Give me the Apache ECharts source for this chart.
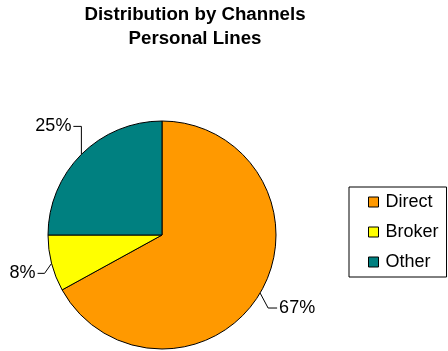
<!DOCTYPE html>
<html>
<head>
<meta charset="utf-8">
<script src="https://cdn.jsdelivr.net/npm/echarts@6/dist/echarts.min.js"></script>
<style>
  html, body { margin: 0; padding: 0; background: #fff; }
  #chart { width: 448px; height: 351px; }
</style>
</head>
<body>
<div id="chart"></div>
<script>
// Channel shares for personal lines
const channels = ['Direct', 'Broker', 'Other'];
const shares = [67, 8, 25];
const colors = ['#FF9900', '#FFFF00', '#008080'];
const titleLines = ['Distribution by Channels', 'Personal Lines'];

// Leader-line bends per slice, relative to where the line leaves the pie edge:
// [first bend offset, horizontal run], plus which side the text sits on.
const leaderBends = [
  { bend: [8, 15], run: 9, side: 'right' },
  { bend: [-7, 10], run: -7, side: 'left' },
  { bend: [0, -28], run: -8, side: 'left' }
];

const chart = echarts.init(document.getElementById('chart'), null, { renderer: 'canvas' });

const font = '"Liberation Sans", Arial, sans-serif';

chart.setOption({
  backgroundColor: '#ffffff',
  animation: false,
  title: {
    text: titleLines.join('\n'),
    left: 195,
    top: 2.5,
    padding: 0,
    textAlign: 'center',
    textStyle: {
      fontFamily: font,
      fontWeight: 'bold',
      fontSize: 18.7,
      lineHeight: 24,
      color: '#000'
    }
  },
  legend: {
    orient: 'vertical',
    left: 349,
    top: 187,
    padding: [6, 8, 6, 19],
    itemGap: 12,
    itemWidth: 10,
    itemHeight: 10,
    borderColor: '#000',
    borderWidth: 1,
    borderRadius: 0,
    icon: 'rect',
    data: channels,
    textStyle: {
      fontFamily: font,
      fontSize: 18,
      lineHeight: 18,
      color: '#000',
      padding: [0, 0, 0, 2]
    },
    itemStyle: { borderColor: '#000', borderWidth: 1 }
  },
  series: [{
    type: 'pie',
    center: [162, 235],
    radius: 114,
    startAngle: 90,
    clockwise: true,
    data: channels.map((name, i) => ({
      name,
      value: shares[i],
      itemStyle: { color: colors[i] }
    })),
    itemStyle: { borderColor: '#000', borderWidth: 1 },
    label: {
      show: true,
      formatter: '{c}%',
      fontFamily: font,
      fontSize: 18,
      color: '#000',
      overflow: 'none'
    },
    labelLine: {
      show: true,
      length: 10,
      length2: 8,
      lineStyle: { color: '#000', width: 1 }
    },
    labelLayout: function (params) {
      const pts = params.labelLinePoints;
      const cfg = leaderBends[params.dataIndex];
      if (!pts || !cfg) return {};
      const p0 = pts[0];
      const p1 = [p0[0] + cfg.bend[0], p0[1] + cfg.bend[1]];
      const p2 = [p1[0] + cfg.run, p1[1]];
      const gap = 2;
      return {
        x: cfg.side === 'right' ? p2[0] + gap : p2[0] - gap,
        y: p2[1],
        align: cfg.side === 'right' ? 'left' : 'right',
        verticalAlign: 'middle',
        labelLinePoints: [p0, p1, p2]
      };
    },
    emphasis: { disabled: true }
  }]
});
</script>
</body>
</html>
